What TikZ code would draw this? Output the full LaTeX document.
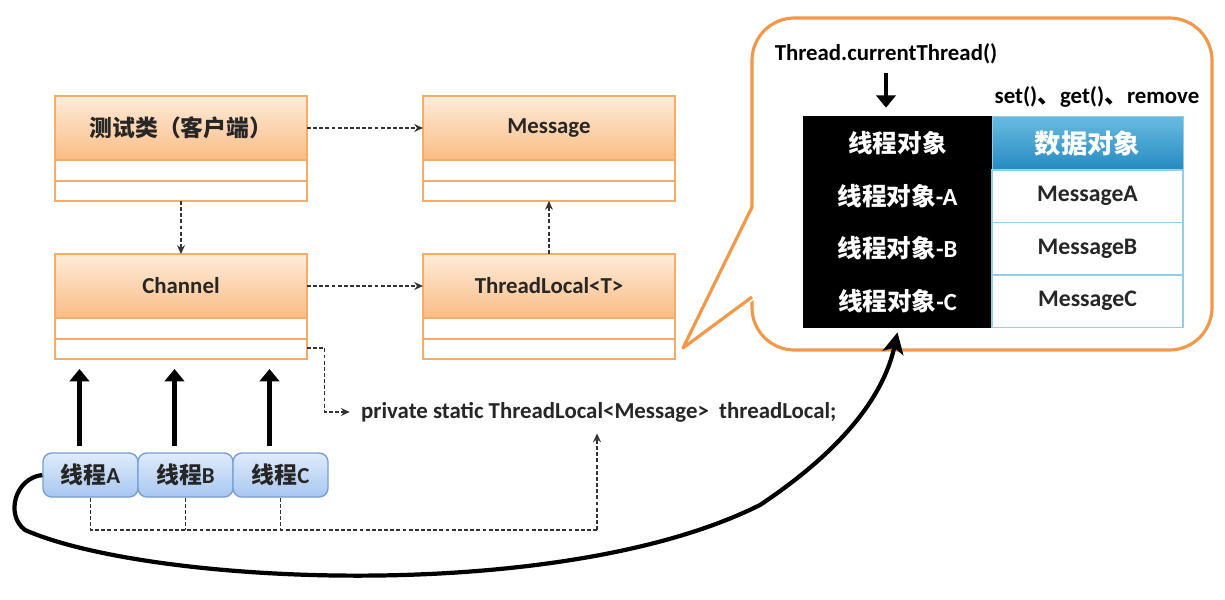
\documentclass[tikz,border=0pt]{standalone}
\usepackage{fontspec}
\setmainfont{Carlito}
\newfontfamily\cjk{Noto Sans CJK SC}
\usetikzlibrary{arrows.meta,calc}
\definecolor{orTop}{RGB}{254,236,218}
\definecolor{orBot}{RGB}{250,188,132}
\definecolor{orLine}{RGB}{244,172,104}
\definecolor{blTop}{RGB}{222,236,252}
\definecolor{blBot}{RGB}{168,198,240}
\definecolor{blLine}{RGB}{120,158,212}
\definecolor{hdTop}{RGB}{104,188,226}
\definecolor{hdBot}{RGB}{38,138,192}
\definecolor{cellLine}{RGB}{150,205,230}
\definecolor{callLine}{RGB}{242,152,72}
\newcommand\zh[1]{{\cjk #1}}
\tikzset{
  clsbox/.style={draw=orLine, fill=white, line width=1pt, minimum width=5.04cm, minimum height=2.1cm, inner sep=0pt, outer sep=0pt},
  clshead/.style={draw=orLine, line width=1pt, top color=orTop, bottom color=orBot, minimum width=5.04cm, minimum height=1.28cm, inner sep=0pt, outer sep=0pt, text=black!85},
  thr/.style={draw=blLine, line width=0.8pt, rounded corners=5pt, top color=blTop, bottom color=blBot, minimum width=1.9cm, minimum height=0.88cm, inner sep=0pt, text=black!85},
  dashline/.style={black!80, line width=0.6pt, dash pattern=on 2.2pt off 1.3pt},
  dasharrow/.style={dashline, -{Stealth[length=5pt,width=4.5pt]}},
  thickarrow/.style={black, line width=2.8pt, -{Triangle[length=7pt,width=11pt]}},
  bigarrow/.style={black, line width=2.4pt, -{Stealth[length=12pt,width=12pt,inset=3pt]}},
  callout/.style={draw=callLine, line width=1.8pt},
  blkcol/.style={fill=black, draw=black, minimum width=3.78cm, minimum height=4.22cm, inner sep=0pt},
  wtxt/.style={text=white, font=\fontsize{14}{16}\selectfont\bfseries},
  bhead/.style={draw=cellLine, top color=hdTop, bottom color=hdBot, minimum width=3.82cm, minimum height=1.08cm, inner sep=0pt, text=white, font=\fontsize{15}{17}\selectfont\bfseries},
  cell/.style={draw=cellLine, line width=0.8pt, fill=white, minimum width=3.82cm, minimum height=1.05cm, inner sep=0pt, text=black!85, font=\fontsize{13.5}{16}\selectfont\bfseries},
}
\newcommand\umlclass[4]{%
  \node[clsbox, anchor=north west] (#1) at (#2,#3) {};
  \node[clshead, anchor=north west] (#1h) at (#2,#3) {#4};
  \draw[orLine, line width=1pt] ([yshift=-1.70cm]#1.north west) -- ([yshift=-1.70cm]#1.north east);
}
\begin{document}
\begin{tikzpicture}[x=0.02cm, y=-0.02cm, font=\fontsize{13}{15}\selectfont\bfseries]
\useasboundingbox[fill=white] (0,0) rectangle (1225,599);

% class boxes
\umlclass{test}{55}{96}{\zh{测试类（客户端）}}
\umlclass{msg}{423}{96}{Message}
\umlclass{chan}{55}{254}{Channel}
\umlclass{tl}{423}{254}{ThreadLocal<T>}

\draw[dasharrow] (testh.east) -- (msgh.west);
\draw[dasharrow] (chanh.east) -- (tlh.west);
\draw[dasharrow] (test.south) -- (chanh.north);
\draw[dasharrow] (tlh.north) -- (msg.south);

% code line
\node[anchor=west, text=black!85] (code) at (355,412) {private static ThreadLocal<Message>\ \ threadLocal;};
\draw[dasharrow] ([yshift=0.22cm]chan.south east) -- ++(18,0) |- ([xshift=-3pt]code.west);

% threads
\node[thr] (ta) at (90.5,475) {\zh{线程}A};
\node[thr] (tb) at (185.5,475) {\zh{线程}B};
\node[thr] (tc) at (280.5,475) {\zh{线程}C};
\foreach \n in {ta,tb,tc}
  \draw[thickarrow] ([xshift=-0.22cm,yshift=0.12cm]\n.north) -- ([xshift=-0.22cm,yshift=-0.2cm]\n.north |- chan.south);

\coordinate (j) at (597,530);
\draw[dashline] (ta.south) |- (j);
\draw[dashline] (tb.south) -- (tb.south |- j);
\draw[dashline] (tc.south) -- (tc.south |- j);
\draw[dasharrow] (j) -- ([yshift=-3pt]j |- code.south);

% callout
\draw[callout, rounded corners=0.85cm] (752,18) rectangle (1212,350);
\fill[white] (755,205) -- (683,348) -- (755,299) -- cycle;
\draw[callout, line join=round] (752,207) -- (683,348) -- (752,297);

\node (tct) at (886,54) {Thread.currentThread()};
\node (ops) at (1097,97) {set()\zh{、}get()\zh{、}remove};

% table
\node[blkcol] (blk) at (897.5,221.5) {};
\node[wtxt] (h0) at (897.5,143) {\zh{线程对象}};
\node[wtxt] (h1) at (897.5,196) {\zh{线程对象}-A};
\node[wtxt] (h2) at (897.5,248.5) {\zh{线程对象}-B};
\node[wtxt] (h3) at (897.5,301) {\zh{线程对象}-C};
\node[bhead] (dh) at (1087.5,143) {\zh{数据对象}};
\node[cell] (ma) at (1087.5,196.2) {MessageA};
\node[cell] (mb) at (1087.5,248.7) {MessageB};
\node[cell] (mc) at (1087.5,301.2) {MessageC};

\draw[thickarrow] ([yshift=-0.06cm]tct.south) -- ([yshift=0.16cm]tct.south |- blk.north);

% big curve
\draw[bigarrow] (ta.west) .. controls (15,478) and (5,515) .. (25,530)
  .. controls (150,585) and (560,605) .. (760,505)
  .. controls (850,445) and (885,390) .. ([yshift=-0.1cm]blk.south);
\end{tikzpicture}
\end{document}
